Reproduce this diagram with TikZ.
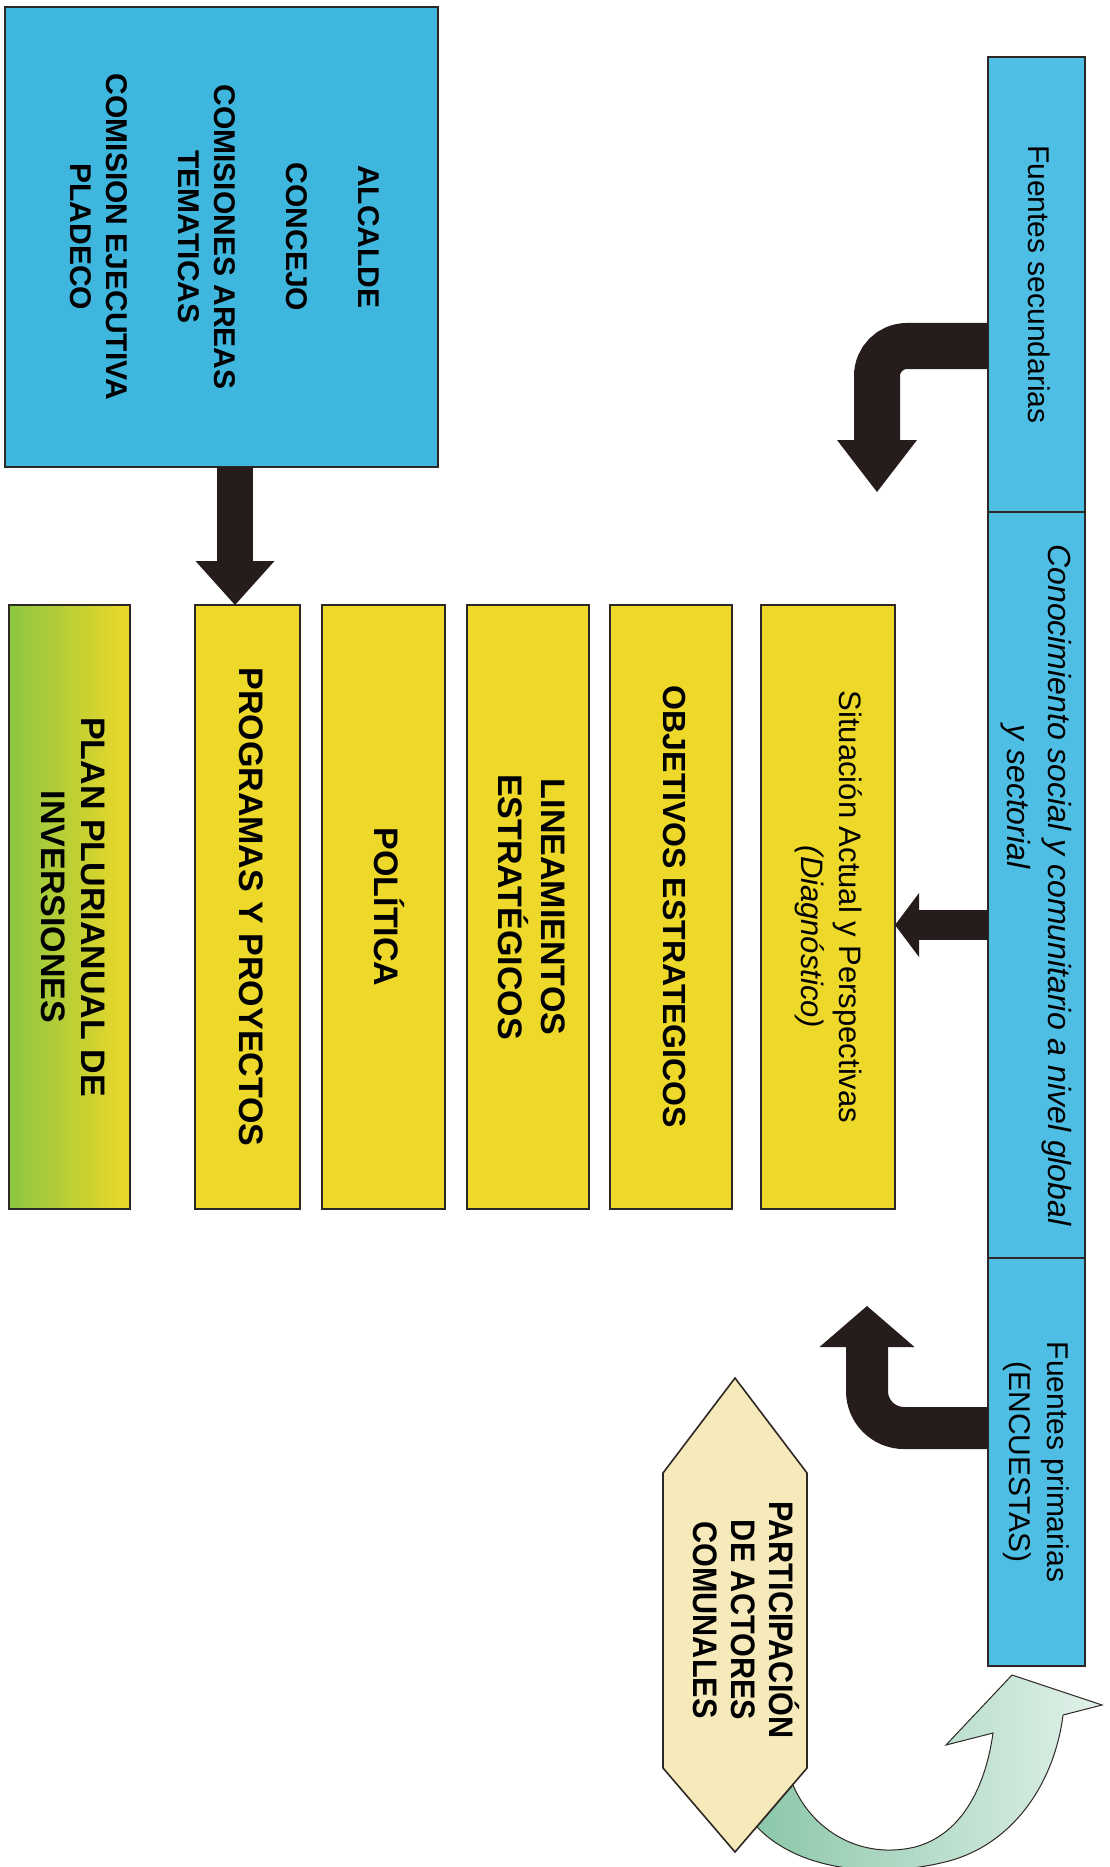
\documentclass[tikz,border=0pt]{standalone}
\usepackage{fontspec}
\setmainfont{Liberation Sans}
\newfontfamily\narrowsans[FakeStretch=0.9]{Liberation Sans}
\usepackage{graphicx}
\usetikzlibrary{arrows.meta, positioning, calc}
\definecolor{mesablue}{RGB}{62,182,222}
\definecolor{barblue}{RGB}{78,190,228}
\definecolor{ylw}{RGB}{238,216,42}
\definecolor{plangreen}{RGB}{140,198,64}
\definecolor{boxline}{RGB}{45,40,35}
\definecolor{arrowdark}{RGB}{38,28,28}
\definecolor{hexfill}{RGB}{246,233,186}
\definecolor{tailgreen}{RGB}{140,200,170}
\definecolor{headgreen}{RGB}{225,241,234}
\newcommand{\vtext}[2][c]{\rotatebox{-90}{\begin{tabular}{@{}#1@{}}#2\end{tabular}}}
\tikzset{
    box/.style={draw=boxline, line width=1.6pt, inner sep=0pt, outer sep=0pt},
    mesabox/.style={box, fill=mesablue, font=\bfseries\fontsize{30}{36}\selectfont},
    stagebox/.style={box, fill=ylw, minimum height=604pt, font=\bfseries\fontsize{34}{40}\selectfont},
    barbox/.style={box, fill=barblue, minimum width=97pt, font=\fontsize{30}{38}\selectfont},
    blockarrow/.style n args={3}{draw=arrowdark, line width=#1, -{Triangle[width=#2, length=#3, line width=0pt]}}
}

\begin{document}
\begin{tikzpicture}[x=1pt, y=-1pt]
    \useasboundingbox (0,0) rectangle (1110,1867);
    \fill[white] (0,0) rectangle (1110,1867);
    % actors that steer the plan
    \node[mesabox, anchor=north west, minimum width=433pt, minimum height=460pt] (mesa) at (5,7)
        {\vtext{ALCALDE\\ \\ CONCEJO\\ \\ COMISIONES AREAS\\ TEMATICAS\\ \\ COMISION EJECUTIVA\\ PLADECO}};
    % stages of the plan
    \node[stagebox, anchor=north west, minimum width=121pt, left color=plangreen, middle color=ylw, right color=ylw] (plan) at (9,605)
        {\vtext{PLAN PLURIANUAL DE\\ INVERSIONES}};
    \node[stagebox, minimum width=105pt, right=65pt of plan] (prog) {\vtext{PROGRAMAS Y PROYECTOS}};
    \node[stagebox, minimum width=123pt, right=22pt of prog] (pol) {\vtext{POLÍTICA}};
    \node[stagebox, minimum width=122pt, right=22pt of pol] (lin) {\vtext{LINEAMIENTOS\\ ESTRATÉGICOS}};
    \node[stagebox, minimum width=122pt, right=21pt of lin, font=\bfseries\fontsize{32}{38}\selectfont] (obj)
        {\vtext{OBJETIVOS ESTRATEGICOS}};
    \node[stagebox, minimum width=134pt, right=29pt of obj, font=\fontsize{31}{38}\selectfont] (sit)
        {\vtext{Situación Actual y Perspectivas\\ \hspace*{60pt}\textit{(Diagnóstico)}}};
    % sources bar
    \node[barbox, anchor=north west, minimum height=455pt] (sec) at (988,57) {\vtext{Fuentes secundarias}};
    \node[barbox, minimum height=746pt, below=0pt of sec, font=\itshape\fontsize{32}{41}\selectfont] (con)
        {\vtext[l]{Conocimiento social y comunitario a nivel global\\ \hspace*{180pt}y sectorial}};
    \node[barbox, minimum height=408pt, below=0pt of con] (pri) {\vtext{Fuentes primarias\\ (ENCUESTAS)}};
    % arrow ends
    \coordinate (secdown) at (877,492);
    \coordinate (priup) at (867,1306);
    % connectors
    \draw[blockarrow={36pt}{79pt}{44pt}] (mesa.south -| 235,0) -- (prog.north -| 235,0);
    \draw[blockarrow={46pt}{80pt}{52pt}, rounded corners=30pt] (sec.west |- 0,346) -| (secdown);
    \draw[blockarrow={30pt}{64pt}{24pt}] (con.west |- 0,925) -- (sit.east |- 0,925);
    \draw[blockarrow={42pt}{95pt}{41pt}, rounded corners=37pt] (pri.west |- 0,1428) -| (priup);
    % community participation
    \filldraw[fill=hexfill, draw=boxline, line width=1.6pt]
        (663,1473) -- (735,1378) -- (807,1473) -- (807,1768) -- (735,1852) -- (663,1768) -- cycle;
    \node[font=\narrowsans\bfseries\fontsize{34}{38}\selectfont] (part) at (741,1620)
        {\vtext{PARTICIPACIÓN\\ DE ACTORES\\ COMUNALES}};
    \shadedraw[left color=tailgreen, right color=headgreen, draw=boxline, line width=1pt]
        (757,1827) .. controls (800,1872) and (880,1878) .. (945,1862)
        .. controls (1015,1845) and (1055,1780) .. (1063,1715)
        -- (1102,1705) -- (1012,1675) -- (946,1745) -- (993,1733)
        .. controls (985,1790) and (960,1835) .. (915,1847)
        .. controls (860,1860) and (812,1830) .. (793,1785) -- cycle;
\end{tikzpicture}
\end{document}
